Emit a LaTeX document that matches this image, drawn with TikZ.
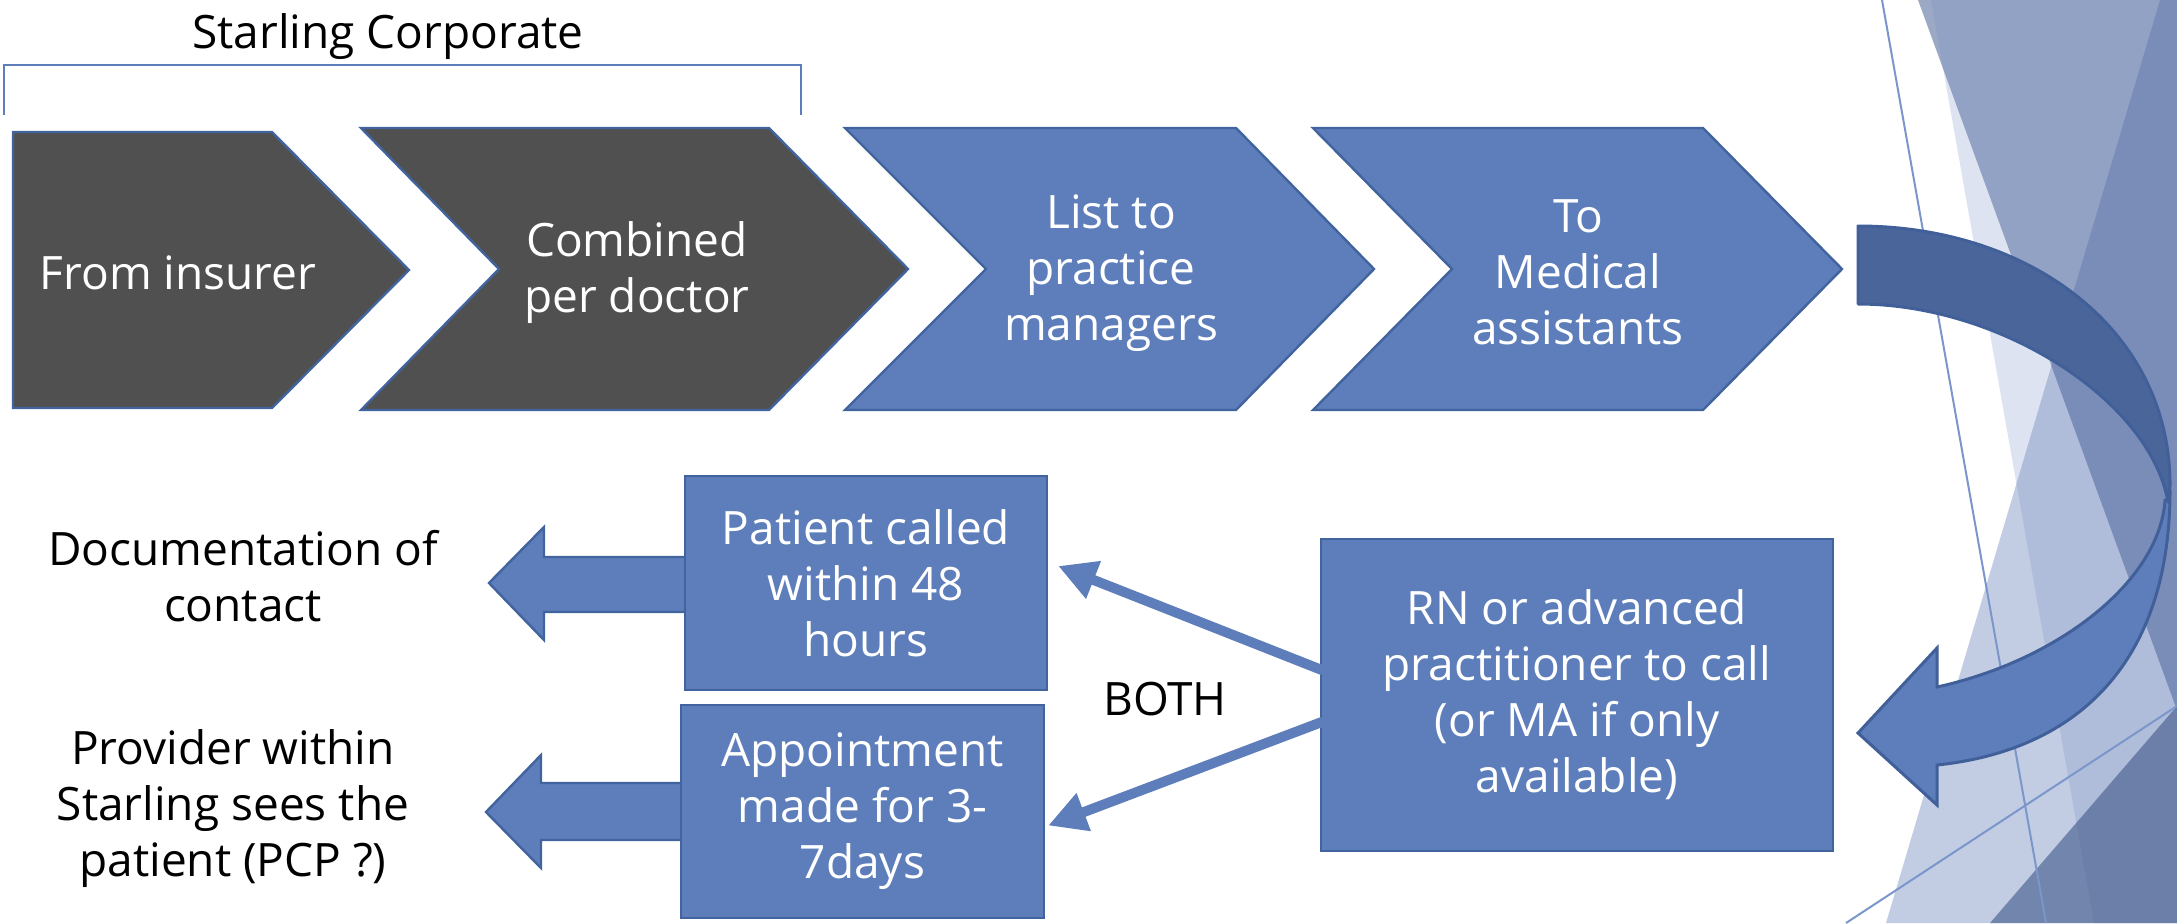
\documentclass[tikz,border=0pt]{standalone}
\usepackage{fontspec}
\setmainfont{Open Sans}
\usetikzlibrary{arrows.meta,calc}
\definecolor{boxblue}{RGB}{93,126,186}
\definecolor{boxedge}{RGB}{66,100,158}
\definecolor{chevgray}{RGB}{80,80,80}
\definecolor{curvdark}{RGB}{73,101,154}
\definecolor{curvedge}{RGB}{65,96,154}
\definecolor{thinline}{RGB}{123,150,203}
\definecolor{bgA}{HTML}{C2CDE4}
\definecolor{bgB}{HTML}{9CA9C4}
\definecolor{bgAB}{HTML}{7C8DB4}
\definecolor{bgC}{HTML}{7890C4}
\definecolor{bgD}{HTML}{4D6392}
\begin{document}
\begin{tikzpicture}[x=0.5pt,y=-0.5pt,
  txt/.style={font=\fontsize{23}{28}\selectfont, align=center, inner sep=0pt},
  wtxt/.style={txt, text=white},
  chev/.style={line width=1.2pt, draw=boxedge, line join=miter},
  bluebox/.style={wtxt, fill=boxblue, draw=boxedge, line width=1.2pt},
  bigarrow/.style={fill=boxblue, draw=boxedge, line width=1.2pt, line join=miter},
  linkarrow/.style={draw=boxblue, line width=5pt, line cap=round, -{Triangle[length=19pt,width=19pt]}},
  bracketline/.style={draw=boxblue, line width=1pt},
  bgline/.style={draw=thinline, line width=1pt},
  curvA/.style={fill=curvdark, draw=curvedge, line width=1.5pt, line join=round},
  curvB/.style={fill=boxblue, draw=curvedge, line width=1.5pt, line join=miter},
]
\useasboundingbox (0,0) rectangle (2177,923);

% background facets
\fill[bgA] (2160,0) -- (2177,0) -- (2177,923) -- (1886,923) -- cycle;
\fill[bgB] (1918,0) -- (2177,0) -- (2177,710) -- cycle;
\begin{scope}
  \clip (2160,0) -- (2177,0) -- (2177,923) -- (1886,923) -- cycle;
  \fill[bgAB] (1918,0) -- (2177,0) -- (2177,710) -- cycle;
\end{scope}
\fill[bgC, opacity=0.25] (1931,0) -- (2177,0) -- (2177,923) -- (2094,923) -- cycle;
\fill[bgD, opacity=0.68] (2177,706) -- (2177,923) -- (1990,923) -- cycle;
\draw[bgline] (1882,0) -- (2046,923);
\draw[bgline] (1846,923) -- (2177,706);

% bracket and title
\node[txt] (sc) at (388,37) {Starling Corporate};
\draw[bracketline] (4,115) -- (4,65) -- (801,65) -- (801,115);

% chevrons
\draw[chev, fill=chevgray] (13,132) -- (272,132) -- (409,270) -- (272,408) -- (13,408) -- cycle;
\draw[chev, fill=chevgray] (361,128) -- (769,128) -- (908,269) -- (769,410) -- (361,410) -- (499,269) -- cycle;
\draw[chev, fill=boxblue] (845,128) -- (1236,128) -- (1374,269) -- (1236,410) -- (845,410) -- (986,269) -- cycle;
\draw[chev, fill=boxblue] (1313,128) -- (1703,128) -- (1842,269) -- (1703,410) -- (1313,410) -- (1452,269) -- cycle;
\node[wtxt] (t1) at (178,273) {From insurer};
\node[wtxt] (t2) at (637,273) {Combined\\per doctor};
\node[wtxt] (t3) at (1111,273) {List to\\practice\\managers};
\node[wtxt] (t4) at (1578,272) {To\\Medical\\assistants};

% curved arrow
\path[curvB] (2168,500) -- (2170,490) .. controls (2170,660) and (2080,750) .. (1937,765)
  -- (1937,805) -- (1858,733) -- (1937,648) -- (1937,687)
  .. controls (2060,660) and (2160,580) .. (2165,500) -- cycle;
\path[curvA] (1858,226) .. controls (2030,226) and (2170,330) .. (2170,485) -- (2168,502)
  .. controls (2150,400) and (2000,304) .. (1858,304) -- cycle;

% left arrows behind boxes
\path[bigarrow] (700,557) -- (544,557) -- (544,527) -- (489,583) -- (544,640) -- (544,612) -- (700,612) -- cycle;
\path[bigarrow] (700,783) -- (541,783) -- (541,755) -- (486,812) -- (541,868) -- (541,840) -- (700,840) -- cycle;

% boxes
\node[bluebox, minimum width=181pt, minimum height=107pt] (b1) at (866,583) {Patient called\\within 48\\hours};
\node[bluebox, minimum width=181.5pt, minimum height=106.5pt] (b2) at (862.5,811.5) {Appointment\\made for 3-\\7days};
\node[bluebox, minimum width=256pt, minimum height=156pt] (rn) at (1577,695) {RN or advanced\\practitioner to call\\(or MA if only\\available)};

% link arrows
\draw[linkarrow] ($(rn.west)+(2,-25)$) -- ($(b1.east)+(10,-17)$);
\draw[linkarrow] ($(rn.west)+(2,27)$) -- ($(b2.east)+(3,14)$);
\node[txt] (both) at (1165,699) {BOTH};

% outside texts
\node[txt] (doc) at (243,576) {Documentation of\\contact};
\node[txt] (prov) at (233,809) {Provider within\\Starling sees the\\patient (PCP ?)};
\end{tikzpicture}
\end{document}
